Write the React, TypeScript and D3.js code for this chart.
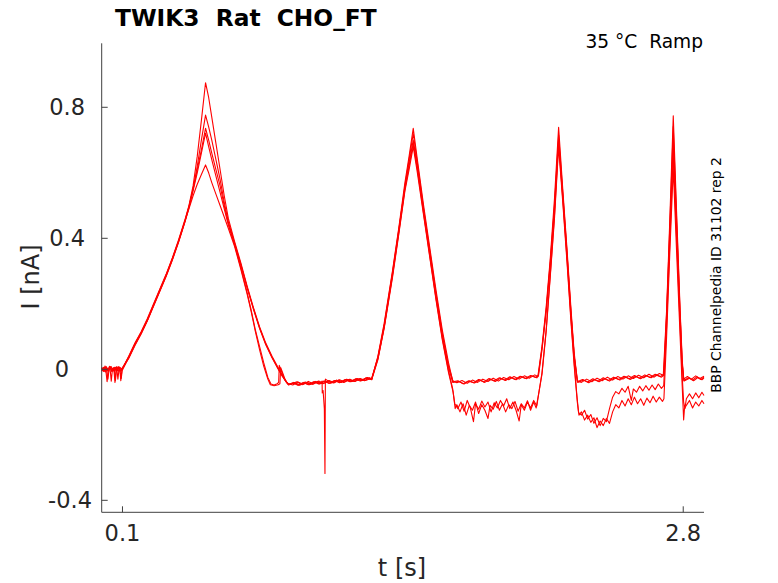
import React from "react";
import * as d3 from "d3";

type Pt = [number, number];

const xTicks = [0.1, 2.8];
const xTickLabels = ["0.1", "2.8"];
const yTicks = [-0.4, 0, 0.4, 0.8];
const yTickLabels = ["-0.4", "0", "0.4", "0.8"];

const sweep1: Pt[] = [
  [0,0.004],[0.008,-0.006],[0.016,0.01],[0.024,-0.004],[0.03,-0.03],[0.036,0.002],[0.046,0.008],[0.056,-0.005],[0.066,0.006],[0.076,-0.004],[0.086,0.007],[0.092,-0.035],[0.098,0.002],[0.104,0.006],
  [0.13,0.04],[0.16,0.08],[0.19,0.115],[0.22,0.155],[0.25,0.2],[0.28,0.245],[0.31,0.29],[0.34,0.34],[0.37,0.395],[0.4,0.455],[0.42,0.5],[0.44,0.56],[0.46,0.65],[0.48,0.76],[0.5,0.875],[0.515,0.83],[0.53,0.77],[0.55,0.69],[0.57,0.61],[0.59,0.53],[0.61,0.46],[0.64,0.39],[0.67,0.325],[0.7,0.255],[0.73,0.19],[0.76,0.13],[0.79,0.08],[0.82,0.04],[0.85,0.005],[0.87,-0.018],[0.89,-0.038],[0.9,-0.046],
  [0.925,-0.04],[0.95,-0.049],[0.975,-0.041],[1.0,-0.047],[1.025,-0.038],[1.05,-0.045],[1.075,-0.036],[1.1,-0.043],[1.125,-0.034],[1.15,-0.04],[1.175,-0.031],[1.2,-0.038],[1.225,-0.029],[1.25,-0.035],[1.275,-0.026],[1.3,-0.031],
  [1.33,0.04],[1.36,0.14],[1.4,0.3],[1.43,0.43],[1.46,0.57],[1.48,0.65],[1.5,0.736],[1.52,0.64],[1.55,0.5],[1.58,0.37],[1.61,0.24],[1.64,0.12],[1.67,0.02],[1.69,-0.035],
  [1.71,-0.041],[1.735,-0.034],[1.76,-0.043],[1.785,-0.033],[1.81,-0.04],[1.835,-0.03],[1.86,-0.037],[1.885,-0.027],[1.91,-0.036],[1.935,-0.025],[1.96,-0.032],[1.985,-0.022],[2.01,-0.03],[2.035,-0.02],[2.06,-0.027],[2.085,-0.017],[2.1,-0.022],
  [2.12,0.07],[2.14,0.19],[2.16,0.34],[2.18,0.52],[2.2,0.739],[2.22,0.55],[2.24,0.37],[2.26,0.18],[2.275,0.05],[2.29,-0.035],
  [2.31,-0.04],[2.335,-0.03],[2.36,-0.038],[2.385,-0.027],[2.41,-0.035],[2.435,-0.024],[2.46,-0.033],[2.485,-0.022],[2.51,-0.03],[2.535,-0.02],[2.56,-0.028],[2.585,-0.018],[2.61,-0.026],[2.635,-0.015],[2.66,-0.024],[2.685,-0.013],[2.704,-0.018],
  [2.72,0.18],[2.735,0.45],[2.752,0.774],[2.768,0.48],[2.785,0.18],[2.795,0.03],[2.802,-0.03],
  [2.82,-0.022],[2.84,-0.03],[2.86,-0.02],[2.88,-0.028],[2.9,-0.021],
];

const sweep2: Pt[] = [
  [0,-0.004],[0.01,0.006],[0.018,-0.008],[0.026,0.004],[0.034,-0.006],[0.042,0.008],[0.05,-0.003],[0.06,0.005],[0.066,-0.035],[0.072,0.002],[0.082,-0.006],[0.09,0.005],[0.1,-0.002],
  [0.13,0.035],[0.16,0.075],[0.19,0.11],[0.22,0.15],[0.25,0.195],[0.28,0.24],[0.31,0.285],[0.34,0.335],[0.37,0.39],[0.4,0.45],[0.42,0.495],[0.44,0.55],[0.46,0.62],[0.48,0.7],[0.5,0.776],[0.515,0.74],[0.53,0.7],[0.55,0.64],[0.57,0.58],[0.59,0.51],[0.61,0.45],[0.64,0.385],[0.67,0.32],[0.7,0.25],[0.73,0.185],[0.76,0.125],[0.79,0.075],[0.82,0.035],[0.85,0.0],[0.87,-0.022],[0.89,-0.04],[0.9,-0.044],
  [0.92,-0.048],[0.945,-0.039],[0.97,-0.046],[0.995,-0.037],[1.02,-0.045],[1.045,-0.036],[1.07,-0.043],[1.095,-0.034],[1.12,-0.041],[1.145,-0.032],[1.17,-0.039],[1.195,-0.03],[1.22,-0.037],[1.245,-0.028],[1.27,-0.034],[1.3,-0.027],
  [1.33,0.035],[1.36,0.13],[1.4,0.29],[1.43,0.42],[1.46,0.56],[1.48,0.64],[1.5,0.72],[1.52,0.63],[1.55,0.49],[1.58,0.36],[1.61,0.23],[1.64,0.11],[1.67,0.01],[1.692,-0.038],
  [1.715,-0.035],[1.74,-0.044],[1.765,-0.036],[1.79,-0.041],[1.815,-0.031],[1.84,-0.039],[1.865,-0.028],[1.89,-0.035],[1.915,-0.026],[1.94,-0.033],[1.965,-0.023],[1.99,-0.031],[2.015,-0.021],[2.04,-0.028],[2.065,-0.019],[2.09,-0.025],[2.102,-0.018],
  [2.12,0.065],[2.14,0.18],[2.16,0.33],[2.18,0.5],[2.2,0.715],[2.22,0.54],[2.24,0.36],[2.26,0.17],[2.275,0.04],[2.29,-0.038],
  [2.315,-0.031],[2.34,-0.039],[2.365,-0.029],[2.39,-0.036],[2.415,-0.026],[2.44,-0.034],[2.465,-0.024],[2.49,-0.031],[2.515,-0.021],[2.54,-0.029],[2.565,-0.019],[2.59,-0.027],[2.615,-0.017],[2.64,-0.025],[2.665,-0.015],[2.69,-0.022],[2.706,-0.016],
  [2.72,0.17],[2.735,0.43],[2.752,0.741],[2.768,0.46],[2.785,0.17],[2.795,0.02],[2.803,-0.034],
  [2.825,-0.026],[2.845,-0.033],[2.865,-0.023],[2.885,-0.031],[2.9,-0.024],
];

const sweep3: Pt[] = [
  [0,0.002],[0.012,-0.007],[0.02,0.007],[0.028,-0.003],[0.038,0.009],[0.048,-0.006],[0.058,0.004],[0.064,-0.04],[0.07,0.003],[0.08,0.008],[0.088,-0.005],[0.094,-0.028],[0.1,0.003],
  [0.13,0.038],[0.16,0.078],[0.19,0.113],[0.22,0.152],[0.25,0.198],[0.28,0.243],[0.31,0.288],[0.34,0.338],[0.37,0.392],[0.4,0.452],[0.42,0.497],[0.44,0.55],[0.46,0.61],[0.48,0.67],[0.5,0.736],[0.515,0.7],[0.53,0.66],[0.55,0.61],[0.57,0.56],[0.59,0.5],[0.61,0.445],[0.64,0.38],[0.67,0.318],[0.7,0.25],[0.73,0.186],[0.76,0.127],[0.79,0.077],[0.82,0.037],[0.85,0.002],[0.87,-0.02],[0.89,-0.039],[0.9,-0.047],
  [0.93,-0.041],[0.955,-0.048],[0.98,-0.039],[1.005,-0.046],[1.03,-0.037],[1.055,-0.043],[1.061,-0.036],[1.062,-0.072],[1.066,-0.065],[1.072,-0.12],[1.075,-0.318],[1.077,-0.03],[1.105,-0.042],[1.13,-0.033],[1.155,-0.04],[1.18,-0.03],[1.205,-0.037],[1.23,-0.028],[1.255,-0.034],[1.28,-0.025],[1.3,-0.03],
  [1.33,0.038],[1.36,0.135],[1.4,0.295],[1.43,0.425],[1.46,0.555],[1.48,0.63],[1.5,0.7],[1.52,0.62],[1.55,0.485],[1.58,0.355],[1.61,0.225],[1.64,0.105],[1.67,0.005],[1.69,-0.04],
  [1.72,-0.037],[1.745,-0.045],[1.77,-0.035],[1.795,-0.042],[1.82,-0.032],[1.845,-0.04],[1.87,-0.03],[1.895,-0.037],[1.92,-0.027],[1.945,-0.034],[1.97,-0.024],[1.995,-0.032],[2.02,-0.022],[2.045,-0.029],[2.07,-0.02],[2.095,-0.026],[2.103,-0.02],
  [2.12,0.06],[2.14,0.175],[2.16,0.32],[2.18,0.49],[2.2,0.7],[2.22,0.53],[2.24,0.355],[2.26,0.165],[2.276,0.035],[2.292,-0.04],
  [2.32,-0.033],[2.345,-0.041],[2.37,-0.031],[2.395,-0.038],[2.42,-0.028],[2.445,-0.036],[2.47,-0.026],[2.495,-0.033],[2.52,-0.023],[2.545,-0.031],[2.57,-0.021],[2.595,-0.029],[2.62,-0.019],[2.645,-0.026],[2.67,-0.017],[2.695,-0.024],[2.707,-0.018],
  [2.72,0.16],[2.735,0.41],[2.752,0.7],[2.768,0.44],[2.785,0.16],[2.795,0.015],[2.804,-0.036],
  [2.83,-0.027],[2.85,-0.035],[2.87,-0.025],[2.89,-0.032],[2.9,-0.027],
];

const sweep4: Pt[] = [
  [0,-0.006],[0.01,0.005],[0.02,-0.004],[0.026,-0.038],[0.032,0.0],[0.04,0.007],[0.05,-0.007],[0.06,0.006],[0.07,-0.004],[0.08,0.006],[0.09,-0.006],[0.1,0.004],
  [0.13,0.033],[0.16,0.073],[0.19,0.108],[0.22,0.148],[0.25,0.193],[0.28,0.238],[0.31,0.283],[0.34,0.333],[0.37,0.388],[0.4,0.448],[0.42,0.493],[0.44,0.545],[0.46,0.6],[0.48,0.66],[0.5,0.721],[0.515,0.68],[0.53,0.64],[0.55,0.59],[0.57,0.54],[0.59,0.49],[0.61,0.44],[0.64,0.38],[0.67,0.31],[0.7,0.235],[0.72,0.18],[0.74,0.12],[0.76,0.07],[0.78,0.02],[0.8,-0.025],[0.815,-0.045],[0.83,-0.048],[0.845,-0.044],[0.852,-0.04],[0.855,0.012],[0.865,-0.005],[0.88,-0.03],[0.895,-0.045],
  [0.915,-0.044],[0.94,-0.038],[0.965,-0.047],[0.99,-0.04],[1.015,-0.046],[1.04,-0.037],[1.065,-0.044],[1.09,-0.035],[1.115,-0.042],[1.14,-0.033],[1.165,-0.04],[1.19,-0.031],[1.215,-0.037],[1.24,-0.029],[1.265,-0.035],[1.29,-0.026],[1.3,-0.03],
  [1.33,0.032],[1.36,0.128],[1.4,0.285],[1.43,0.415],[1.46,0.55],[1.48,0.62],[1.5,0.69],[1.52,0.61],[1.55,0.475],[1.58,0.345],[1.61,0.215],[1.64,0.095],[1.67,-0.005],[1.69,-0.06],[1.7,-0.105],
  [1.715,-0.12],[1.73,-0.1],[1.745,-0.128],[1.76,-0.095],[1.775,-0.118],[1.79,-0.16],[1.8,-0.105],[1.815,-0.122],[1.83,-0.097],[1.845,-0.115],[1.86,-0.1],[1.875,-0.13],[1.89,-0.102],[1.905,-0.118],[1.92,-0.095],[1.935,-0.112],[1.95,-0.09],[1.965,-0.12],[1.98,-0.1],[1.995,-0.125],[2.01,-0.158],[2.02,-0.108],[2.035,-0.125],[2.05,-0.1],[2.065,-0.118],[2.08,-0.095],[2.095,-0.112],
  [2.12,-0.01],[2.14,0.12],[2.16,0.29],[2.18,0.47],[2.2,0.69],[2.22,0.52],[2.24,0.34],[2.26,0.15],[2.275,0.02],[2.288,-0.08],[2.296,-0.132],
  [2.31,-0.14],[2.325,-0.125],[2.34,-0.152],[2.355,-0.138],[2.37,-0.165],[2.385,-0.148],[2.4,-0.172],[2.415,-0.15],[2.43,-0.16],[2.445,-0.12],[2.46,-0.085],[2.475,-0.068],[2.49,-0.075],[2.505,-0.058],[2.52,-0.07],[2.535,-0.052],[2.55,-0.095],[2.56,-0.06],[2.575,-0.07],[2.59,-0.052],[2.605,-0.066],[2.62,-0.05],[2.635,-0.064],[2.65,-0.048],[2.665,-0.062],[2.68,-0.045],[2.695,-0.058],[2.706,-0.05],
  [2.72,0.13],[2.735,0.38],[2.752,0.66],[2.768,0.4],[2.785,0.13],[2.795,-0.02],[2.802,-0.1],[2.808,-0.12],
  [2.815,-0.09],[2.83,-0.075],[2.845,-0.09],[2.86,-0.072],[2.875,-0.087],[2.89,-0.07],[2.9,-0.08],
];

const sweep5: Pt[] = [
  [0,0.006],[0.012,-0.004],[0.022,0.008],[0.03,-0.005],[0.04,0.004],[0.046,-0.036],[0.052,0.003],[0.062,-0.006],[0.072,0.008],[0.078,-0.03],[0.084,0.004],[0.094,-0.004],[0.1,0.005],
  [0.13,0.036],[0.16,0.076],[0.19,0.111],[0.22,0.15],[0.25,0.196],[0.28,0.241],[0.31,0.286],[0.34,0.336],[0.37,0.39],[0.4,0.45],[0.42,0.49],[0.44,0.53],[0.46,0.565],[0.48,0.595],[0.5,0.624],[0.515,0.6],[0.53,0.57],[0.55,0.535],[0.57,0.5],[0.59,0.465],[0.61,0.43],[0.64,0.375],[0.67,0.305],[0.7,0.23],[0.72,0.175],[0.74,0.115],[0.76,0.06],[0.78,0.01],[0.8,-0.03],[0.812,-0.047],[0.83,-0.05],[0.85,-0.047],[0.858,-0.044],[0.862,0.005],[0.872,-0.012],[0.885,-0.035],[0.9,-0.048],
  [0.92,-0.042],[0.945,-0.049],[0.97,-0.04],[0.995,-0.047],[1.02,-0.038],[1.045,-0.045],[1.07,-0.036],[1.095,-0.043],[1.12,-0.034],[1.145,-0.041],[1.17,-0.032],[1.195,-0.038],[1.22,-0.03],[1.245,-0.036],[1.27,-0.027],[1.3,-0.032],
  [1.33,0.03],[1.36,0.125],[1.4,0.28],[1.43,0.41],[1.46,0.545],[1.48,0.61],[1.5,0.68],[1.52,0.6],[1.55,0.47],[1.58,0.34],[1.61,0.21],[1.64,0.09],[1.67,-0.01],[1.692,-0.07],[1.702,-0.12],
  [1.71,-0.108],[1.725,-0.13],[1.74,-0.105],[1.755,-0.14],[1.77,-0.11],[1.785,-0.125],[1.8,-0.1],[1.815,-0.135],[1.83,-0.108],[1.845,-0.125],[1.86,-0.15],[1.87,-0.11],[1.885,-0.122],[1.9,-0.098],[1.915,-0.125],[1.93,-0.105],[1.945,-0.13],[1.96,-0.108],[1.975,-0.12],[1.99,-0.098],[2.005,-0.128],[2.02,-0.105],[2.035,-0.118],[2.05,-0.096],[2.065,-0.125],[2.08,-0.1],[2.092,-0.118],
  [2.12,-0.015],[2.14,0.115],[2.16,0.285],[2.18,0.46],[2.2,0.68],[2.22,0.51],[2.24,0.33],[2.26,0.14],[2.275,0.01],[2.29,-0.1],[2.298,-0.14],
  [2.31,-0.13],[2.325,-0.155],[2.34,-0.14],[2.355,-0.162],[2.37,-0.148],[2.385,-0.178],[2.4,-0.158],[2.415,-0.172],[2.43,-0.15],[2.445,-0.165],[2.46,-0.13],[2.475,-0.108],[2.49,-0.118],[2.505,-0.095],[2.52,-0.112],[2.535,-0.09],[2.55,-0.108],[2.565,-0.085],[2.58,-0.105],[2.595,-0.09],[2.61,-0.11],[2.625,-0.088],[2.64,-0.102],[2.655,-0.082],[2.67,-0.1],[2.685,-0.085],[2.7,-0.098],[2.707,-0.09],
  [2.72,0.1],[2.735,0.35],[2.752,0.614],[2.768,0.36],[2.785,0.1],[2.795,-0.05],[2.802,-0.155],[2.806,-0.12],
  [2.815,-0.11],[2.83,-0.095],[2.845,-0.118],[2.86,-0.1],[2.875,-0.112],[2.89,-0.095],[2.9,-0.105],
];

const sweeps: Pt[][] = [sweep1, sweep2, sweep3, sweep4, sweep5];

const titleText = "TWIK3  Rat  CHO_FT";
const conditionText = "35 °C  Ramp";
const sideText = "BBP Channelpedia ID 31102 rep 2";
const xLabel = "t [s]";
const yLabel = "I [nA]";

export default function App() {
  const W = 778, H = 583;
  const left = 101.7, right = 704, top = 43.3, bottom = 512.3;
  const x = d3.scaleLinear().domain([0, 2.9]).range([left, right]);
  const y = d3.scaleLinear().domain([-0.4366, 0.9954]).range([bottom, top]);
  const line = d3.line<Pt>().x((d) => x(d[0])).y((d) => y(d[1]));
  const font = "'DejaVu Sans', sans-serif";
  const axisColor = "#404040";
  const textColor = "#262626";
  const tickLen = 6;
  const yLabelAnchor: Record<string, number> = { "-0.4": 92, "0": 69, "0.4": 85, "0.8": 85 };

  return (
    <svg
      width={W}
      height={H}
      viewBox={`0 0 ${W} ${H}`}
      style={{ position: "absolute", left: 0, top: 0, display: "block", background: "#fff" }}
    >
      <rect x={0} y={0} width={W} height={H} fill="#fff" />
      {sweeps.map((s, i) => (
        <path key={i} d={line(s) || ""} fill="none" stroke="#ff0000" strokeWidth={1.1} strokeLinejoin="round" />
      ))}
      {/* axes */}
      <line x1={left} x2={left} y1={top} y2={bottom} stroke={axisColor} strokeWidth={1} />
      <line x1={left} x2={right} y1={bottom} y2={bottom} stroke={axisColor} strokeWidth={1} />
      {yTicks.map((t, i) => (
        <g key={"yt" + i}>
          <line x1={left} x2={left + tickLen} y1={y(t)} y2={y(t)} stroke={axisColor} strokeWidth={1} />
          <text
            x={yLabelAnchor[yTickLabels[i]]}
            y={y(t)}
            dy="0.33em"
            textAnchor="end"
            fontFamily={font}
            fontSize={22.5}
            fill={textColor}
          >
            {yTickLabels[i]}
          </text>
        </g>
      ))}
      {xTicks.map((t, i) => (
        <g key={"xt" + i}>
          <line x1={x(t)} x2={x(t)} y1={bottom} y2={bottom - tickLen} stroke={axisColor} strokeWidth={1} />
          <text x={x(t)} y={540.5} textAnchor="middle" fontFamily={font} fontSize={22.5} fill={textColor}>
            {xTickLabels[i]}
          </text>
        </g>
      ))}
      <text x={402} y={576} textAnchor="middle" fontFamily={font} fontSize={24} fill={textColor} style={{ whiteSpace: "pre" }}>
        {xLabel}
      </text>
      <text
        transform={`translate(39, 277) rotate(-90)`}
        textAnchor="middle"
        fontFamily={font}
        fontSize={24}
        fill={textColor}
        style={{ whiteSpace: "pre" }}
      >
        {yLabel}
      </text>
      <text x={115} y={26} fontFamily={font} fontWeight="bold" fontSize={23.3} fill="#000" style={{ whiteSpace: "pre" }}>
        {titleText}
      </text>
      <text x={703} y={47.5} textAnchor="end" fontFamily={font} fontSize={18.6} fill="#000" style={{ whiteSpace: "pre" }}>
        {conditionText}
      </text>
      <text
        transform={`translate(721, 275) rotate(-90)`}
        textAnchor="middle"
        fontFamily={font}
        fontSize={13.9}
        fill="#000"
      >
        {sideText}
      </text>
    </svg>
  );
}
